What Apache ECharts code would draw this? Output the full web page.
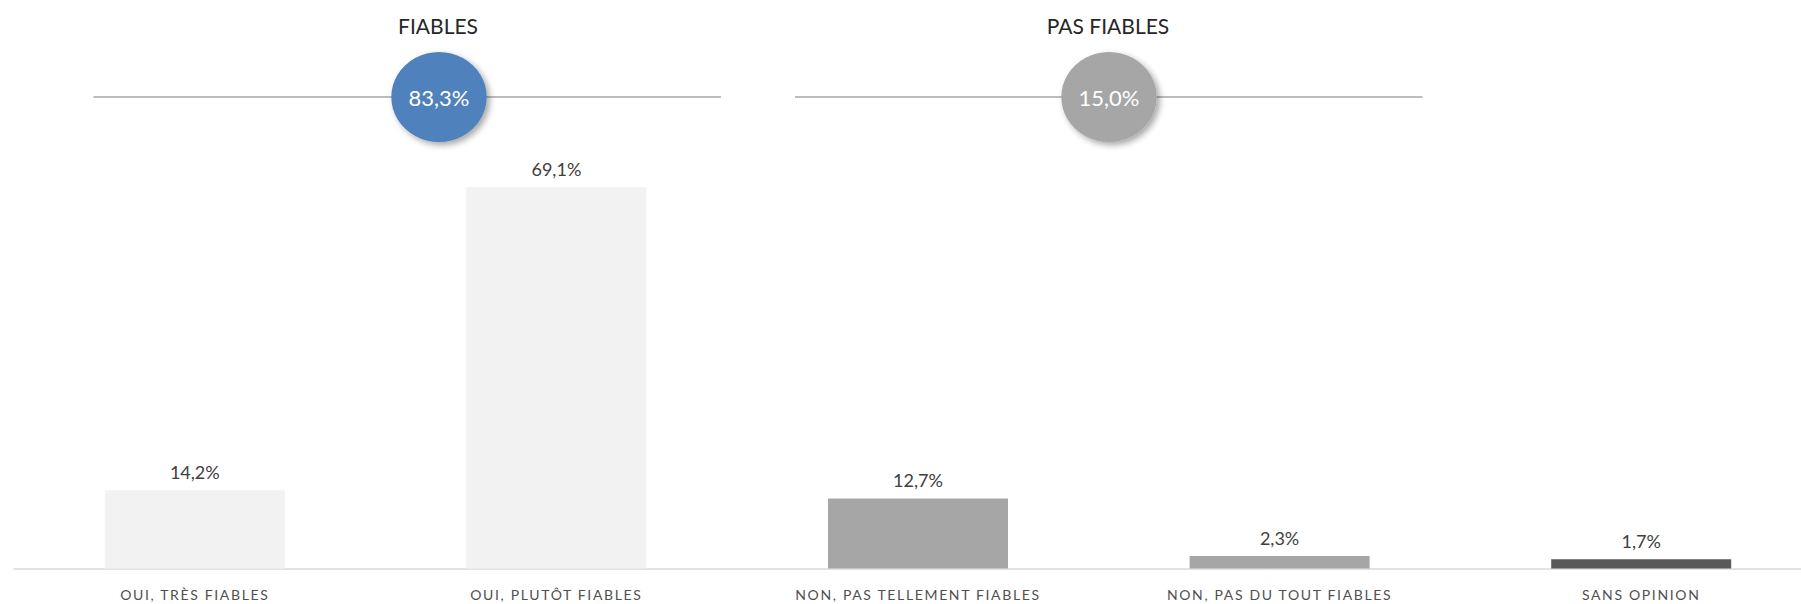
<!DOCTYPE html>
<html>
<head>
<meta charset="utf-8">
<script src="https://cdn.jsdelivr.net/npm/echarts@6/dist/echarts.min.js"></script>
<style>
  html, body { margin: 0; padding: 0; background: #ffffff; overflow: hidden; }
  /* the plot runs a little past the right edge of the page */
  #chart { width: 1825px; height: 604px; }
</style>
</head>
<body>
<div id="chart"></div>
<script>
// Answer categories and their shares (%)
const categories = [
  'OUI, TRÈS FIABLES',
  'OUI, PLUTÔT FIABLES',
  'NON, PAS TELLEMENT FIABLES',
  'NON, PAS DU TOUT FIABLES',
  'SANS OPINION'
];
const shares = [14.2, 69.1, 12.7, 2.3, 1.7];
const barColors = ['#f2f2f2', '#f2f2f2', '#a6a6a6', '#a6a6a6', '#595959'];

// Summary groups: title and indices of the answers they add up
const groupTitles = ['FIABLES', 'PAS FIABLES'];
const groupMembers = [[0, 1], [2, 3]];
const groupColors = ['#4f81bd', '#a6a6a6'];

const FONT = 'Lato, "Open Sans", sans-serif';
const fmt = v => v.toFixed(1).replace('.', ',') + '%';
const groupTotals = groupMembers.map(idx => idx.reduce((s, i) => s + shares[i], 0));

const chart = echarts.init(document.getElementById('chart'), null, { renderer: 'svg' });

// Header decoration: title, rule and bubble for each group
const headers = [
  { cx: 439, lineX1: 93.5, lineX2: 721 },
  { cx: 1109, lineX1: 795, lineX2: 1422.5 }
];
const titleY = 25.5;
const ruleY = 97;
const graphics = [];
headers.forEach((h, g) => {
  graphics.push({
    type: 'text', z: 10,
    x: h.cx - 1, y: titleY,
    style: {
      text: groupTitles[g], x: 0, y: 0, align: 'center', verticalAlign: 'middle',
      fill: '#262626', font: '21px ' + FONT
    }
  });
  graphics.push({
    type: 'line', z: 5,
    shape: { x1: h.lineX1, y1: ruleY, x2: h.lineX2, y2: ruleY },
    style: { stroke: '#a6a6a6', lineWidth: 1.3 }
  });
  graphics.push({
    type: 'circle', z: 20,
    x: h.cx, y: ruleY, scaleX: 1.06, scaleY: 1,
    shape: { cx: 0, cy: 0, r: 45 },
    style: {
      fill: groupColors[g],
      shadowBlur: 6, shadowOffsetX: 3, shadowOffsetY: 3,
      shadowColor: 'rgba(0,0,0,0.35)'
    }
  });
  graphics.push({
    type: 'text', z: 30,
    x: h.cx, y: ruleY,
    style: {
      text: fmt(groupTotals[g]), x: 0, y: 0, align: 'center', verticalAlign: 'middle',
      fill: '#ffffff', font: '22px ' + FONT
    }
  });
});

chart.setOption({
  animation: false,
  backgroundColor: '#ffffff',
  grid: { left: 14, top: 99.4, height: 469.2, width: 1808, containLabel: false },
  xAxis: {
    type: 'category',
    data: categories,
    boundaryGap: true,
    axisTick: { show: false },
    axisLine: { show: true, lineStyle: { color: '#d9d9d9', width: 1.5 } },
    axisLabel: {
      color: '#505050', fontSize: 14, margin: 19,
      fontFamily: FONT, interval: 0
    }
  },
  yAxis: {
    type: 'value', min: 0, max: 85, show: false,
    splitLine: { show: false }
  },
  series: [{
    type: 'bar',
    barWidth: 180,
    data: shares.map((v, i) => ({ value: v, itemStyle: { color: barColors[i] } })),
    label: {
      show: true, position: 'top', distance: 9,
      color: '#404040', fontSize: 18,
      fontFamily: FONT,
      formatter: p => fmt(p.value)
    }
  }],
  graphic: graphics
});

// spaced-out lettering for the category names
document.querySelectorAll('#chart svg text').forEach(t => {
  if (categories.includes(t.textContent)) {
    t.style.letterSpacing = '1.65px';
  }
});
</script>
</body>
</html>
